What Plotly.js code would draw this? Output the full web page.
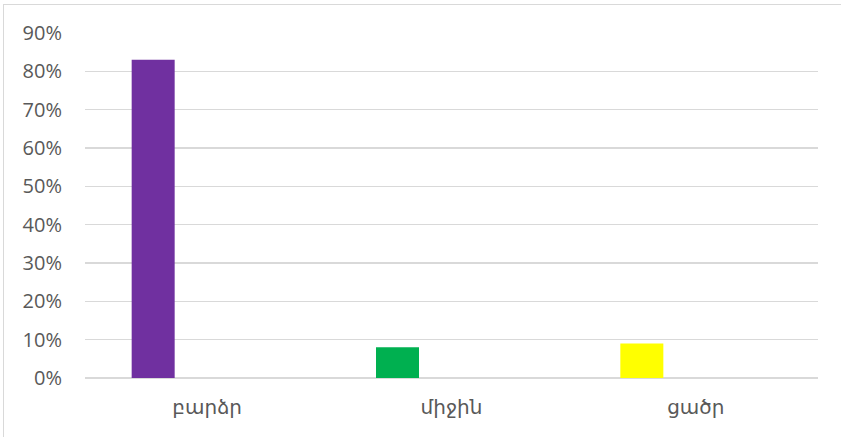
<!DOCTYPE html>
<html>
<head>
<meta charset="utf-8">
<script src="https://cdn.plot.ly/plotly-3.0.1.min.js"></script>
<style>
  html, body { margin: 0; padding: 0; background: #fff; }
  #frame { position: absolute; left: 3px; top: 4px; width: 838px; height: 433px;
           border-top: 1px solid #d9d9d9; border-left: 1px solid #d9d9d9; box-sizing: border-box; }
  #chart { position: absolute; left: 0; top: 0; width: 841px; height: 437px; }
</style>
</head>
<body>
<div id="frame"></div>
<div id="chart"></div>
<script>
const categories = ["բարձր", "միջին", "ցածր"];
const values = [83, 8, 9];
const barColors = ["#7030a0", "#00b050", "#ffff00"];
const yTickValues = [0, 10, 20, 30, 40, 50, 60, 70, 80, 90];
const yTickLabels = yTickValues.map(v => v + "%");

const trace = {
  type: "bar",
  x: categories,
  y: values,
  marker: { color: barColors, line: { width: 0 } },
  width: 0.176,
  offset: -0.309,
  hoverinfo: "skip"
};

const layout = {
  width: 841,
  height: 437,
  margin: { l: 85, r: 23, t: 33, b: 59, pad: 0 },
  paper_bgcolor: "rgba(0,0,0,0)",
  plot_bgcolor: "rgba(0,0,0,0)",
  showlegend: false,
  font: { family: "Open Sans, DejaVu Sans, sans-serif", color: "#595959", size: 19 },
  xaxis: {
    type: "category",
    showgrid: false,
    zeroline: false,
    showline: false,
    ticks: "",
    tickfont: { size: 20, color: "#595959", family: "DejaVu Sans, sans-serif" },
    ticklabelstandoff: 15
  },
  yaxis: {
    range: [0, 90],
    tickvals: yTickValues,
    ticktext: yTickLabels,
    showgrid: true,
    gridcolor: "#d9d9d9",
    gridwidth: 1.5,
    zeroline: true,
    zerolinecolor: "#d9d9d9",
    zerolinewidth: 1.5,
    showline: false,
    ticks: "",
    tickfont: { size: 20, color: "#595959" },
    ticklabelstandoff: 22
  }
};

Plotly.newPlot("chart", [trace], layout, { displayModeBar: false, staticPlot: true });
</script>
</body>
</html>
